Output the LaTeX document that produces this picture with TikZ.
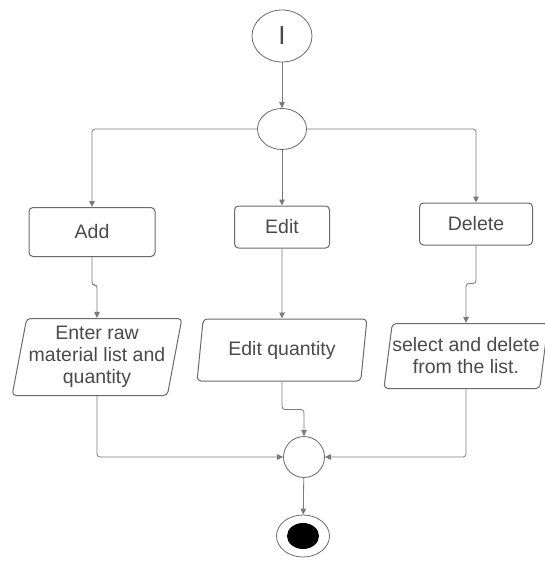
\documentclass[tikz,border=0pt]{standalone}
\usepackage{fontspec}
\setmainfont{Liberation Sans}
\usetikzlibrary{arrows.meta,shapes.geometric}
\definecolor{linegray}{HTML}{7A7A7A}
\definecolor{boxgray}{HTML}{6A6A6A}
\definecolor{txtgray}{HTML}{4A4A4A}
\begin{document}
\begin{tikzpicture}[x=1pt,y=-1pt,
  every node/.style={text=txtgray, font=\fontsize{19.5}{22}\selectfont, inner sep=0pt},
  flow/.style={draw=linegray, line width=0.8pt, rounded corners=3pt,
    -{Triangle[length=6pt,width=5.5pt]}},
  bar/.style={draw=boxgray, line width=0.8pt, ellipse},
  action/.style={draw=boxgray, line width=1pt, rectangle, rounded corners=4pt},
  io/.style={draw=boxgray, line width=1pt, trapezium, trapezium left angle=77,
    trapezium right angle=103, trapezium stretches=true, rounded corners=4pt,
    align=center},
]
\useasboundingbox (0,0) rectangle (545,563);

% initial and fork nodes
\node[bar, minimum width=60pt, minimum height=52pt,
  font=\fontsize{26}{26}\selectfont] (start) at (282,36) {I};
\node[bar, minimum width=49pt, minimum height=41pt] (fork) at (282,129) {};

% actions
\node[action, minimum width=126pt, minimum height=49pt] (add) at (92,232) {Add};
\node[action, minimum width=95pt, minimum height=42pt] (edit) at (282,227) {Edit};
\node[action, minimum width=113pt, minimum height=42pt] (delete) at (476,224) {Delete};

% inputs
\node[io, minimum width=170pt, minimum height=77pt] (enter) at (97,357)
  {Enter raw\\material list and\\quantity};
\node[io, minimum width=170pt, minimum height=62pt] (editq) at (282,350) {Edit quantity};
\node[io, minimum width=158pt, minimum height=65pt] (select) at (466,356)
  {select and delete\\from the list.};

% merge and final nodes
\node[bar, minimum width=41pt, minimum height=41pt] (merge) at (304,457) {};
\node[bar, minimum width=53pt, minimum height=42pt] (final) at (303,536) {};
\node[ellipse, fill=black, minimum width=32pt, minimum height=26pt] (finaldot) at (final.center) {};

% connectors
\draw[flow] (start) -- (fork);
\draw[flow] (fork.west) -| (add.north);
\draw[flow] (fork.south) -- (edit.north);
\draw[flow] (fork.east) -| (delete.north);
\draw[flow] (add.south) -- ++(0,28) -| (enter.north);
\draw[flow] (edit.south) -- (editq.north);
\draw[flow] (delete.south) -- ++(0,38) -| (select.north);
\draw[flow] (enter.south) |- (merge.west);
\draw[flow] (editq.south) -- ++(0,28) -| (merge.north);
\draw[flow] (select.south) |- (merge.east);
\draw[flow] (merge) -- (final);
\end{tikzpicture}
\end{document}
